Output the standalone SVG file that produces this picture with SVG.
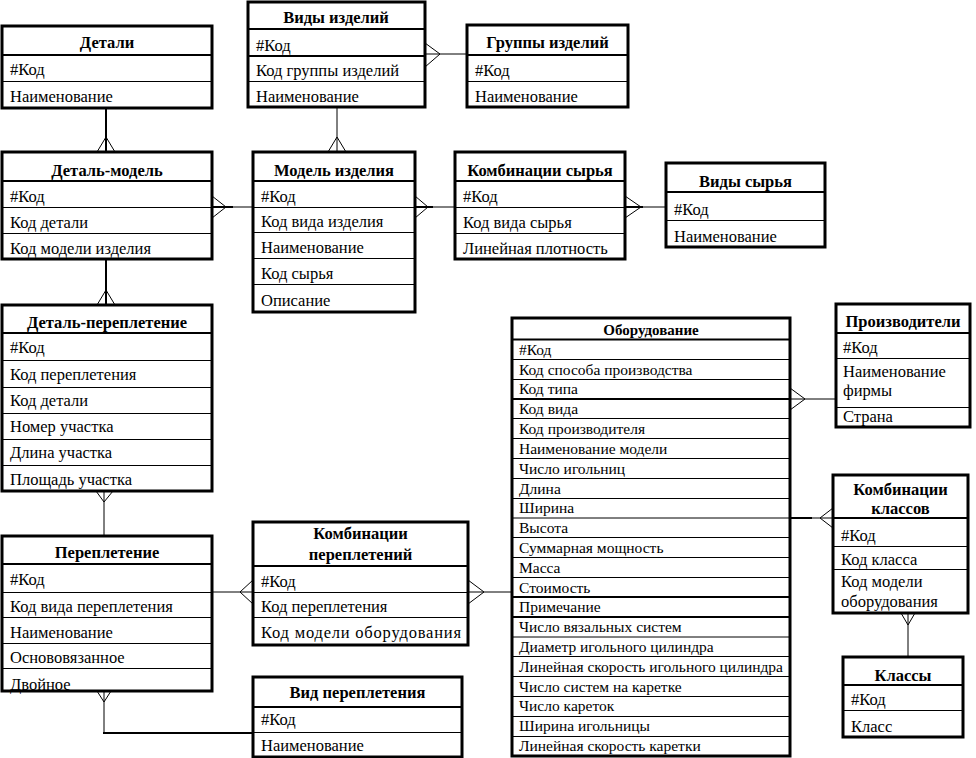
<svg xmlns="http://www.w3.org/2000/svg" width="976" height="758" viewBox="0 0 976 758">
<style>
.bg{fill:#fff;stroke:none}
.ol{fill:none;stroke:#000;stroke-width:3}
.hd{stroke:#000;stroke-width:2}
.rw{stroke:#000;stroke-width:1}
.t{font-family:"Liberation Serif","Times New Roman",serif;font-size:16.5px;fill:#000}
.s{font-family:"Liberation Serif","Times New Roman",serif;font-size:15.5px;fill:#000}
.h{font-family:"Liberation Serif","Times New Roman",serif;font-size:16.5px;font-weight:bold;fill:#000;text-anchor:middle}
.hs{font-family:"Liberation Serif","Times New Roman",serif;font-size:15px;font-weight:bold;fill:#000;text-anchor:middle}
.c{fill:none;stroke:#000;stroke-width:1}
.c2{fill:none;stroke:#000;stroke-width:2}
</style>
<rect width="976" height="758" fill="#fff"/>

<g id="connectors">
  <line class="c2" x1="106" y1="108" x2="106" y2="152"/>
  <polyline class="c" points="97,152 106,137 115,152"/>
  <line class="c" x1="337" y1="107" x2="337" y2="152"/>
  <polyline class="c" points="328,152 337,137 346,152"/>
  <line class="c" x1="425" y1="54" x2="467" y2="54"/>
  <polyline class="c" points="425,43 440,54 425,67"/>
  <line class="c" x1="212" y1="207" x2="253" y2="207"/>
  <line class="c2" x1="212" y1="207" x2="233" y2="207"/>
  <polyline class="c" points="212,196 226,207 212,218"/>
  <line class="c" x1="415" y1="207" x2="455" y2="207"/>
  <line class="c2" x1="415" y1="207" x2="433" y2="207"/>
  <polyline class="c" points="415,196 428,207 415,218"/>
  <line class="c" x1="625" y1="207" x2="666" y2="207"/>
  <line class="c2" x1="625" y1="207" x2="643" y2="207"/>
  <polyline class="c" points="625,196 641,207 625,218"/>
  <line class="c2" x1="106" y1="259" x2="106" y2="305"/>
  <polyline class="c" points="97,305 106,290 115,305"/>
  <line class="c" x1="104" y1="491" x2="104" y2="536"/>
  <polyline class="c" points="96,491 104,502 113,491"/>
  <line class="c" x1="212" y1="592" x2="253" y2="592"/>
  <polyline class="c" points="253,580 240,592 253,604"/>
  <line class="c" x1="468" y1="592" x2="512" y2="592"/>
  <polyline class="c" points="468,580 484,592 468,604"/>
  <polyline class="c" points="104,691 104,733"/>
  <line class="c2" x1="103" y1="733" x2="253" y2="733"/>
  <polyline class="c" points="97,691 104,702 111,691"/>
  <line class="c" x1="790" y1="399" x2="836" y2="399"/>
  <polyline class="c" points="790,388 805,399 790,410"/>
  <line class="c" x1="790" y1="518" x2="833" y2="518"/>
  <line class="c2" x1="790" y1="518" x2="812" y2="518"/>
  <polyline class="c" points="833,508 820,518 833,528"/>
  <line class="c" x1="908" y1="613" x2="908" y2="657"/>
  <polyline class="c" points="901,613 908,625 915,613"/>
</g>

<g id="detali">
  <rect class="bg" x="2" y="26" width="210" height="82"/>
  <line class="hd" x1="2" y1="55" x2="212" y2="55"/>
  <line class="rw" x1="2" y1="81.5" x2="212" y2="81.5"/>
  <text class="h" x="107" y="48">Детали</text>
  <text class="t" x="10" y="75">#Код</text>
  <text class="t" x="10" y="102">Наименование</text>
  <rect class="ol" x="2" y="26" width="210" height="82"/>
</g>

<g id="vidy-izdeliy">
  <rect class="bg" x="248" y="2" width="177" height="105"/>
  <line class="hd" x1="248" y1="29" x2="425" y2="29"/>
  <line class="hd" x1="248" y1="56" x2="425" y2="56"/>
  <line class="rw" x1="248" y1="81.5" x2="425" y2="81.5"/>
  <text class="h" x="336" y="23">Виды изделий</text>
  <text class="t" x="256" y="51">#Код</text>
  <text class="t" x="256" y="76">Код группы изделий</text>
  <text class="t" x="256" y="102">Наименование</text>
  <rect class="ol" x="248" y="2" width="177" height="105"/>
</g>

<g id="gruppy-izdeliy">
  <rect class="bg" x="467" y="25" width="161" height="82"/>
  <line class="hd" x1="467" y1="55" x2="628" y2="55"/>
  <line class="rw" x1="467" y1="81.5" x2="628" y2="81.5"/>
  <text class="h" x="547.5" y="48">Группы изделий</text>
  <text class="t" x="475" y="76">#Код</text>
  <text class="t" x="475" y="102">Наименование</text>
  <rect class="ol" x="467" y="25" width="161" height="82"/>
</g>

<g id="detal-model">
  <rect class="bg" x="2" y="152" width="210" height="107"/>
  <line class="hd" x1="2" y1="181" x2="212" y2="181"/>
  <line class="rw" x1="2" y1="207.5" x2="212" y2="207.5"/>
  <line class="rw" x1="2" y1="233.5" x2="212" y2="233.5"/>
  <text class="h" x="107" y="176">Деталь-модель</text>
  <text class="t" x="10" y="202">#Код</text>
  <text class="t" x="10" y="228">Код детали</text>
  <text class="t" x="10" y="254">Код модели изделия</text>
  <rect class="ol" x="2" y="152" width="210" height="107"/>
</g>

<g id="model-izdeliya">
  <rect class="bg" x="253" y="152" width="162" height="160"/>
  <line class="hd" x1="253" y1="181" x2="415" y2="181"/>
  <line class="rw" x1="253" y1="207.5" x2="415" y2="207.5"/>
  <line class="rw" x1="253" y1="232.5" x2="415" y2="232.5"/>
  <line class="rw" x1="253" y1="258.5" x2="415" y2="258.5"/>
  <line class="rw" x1="253" y1="284.5" x2="415" y2="284.5"/>
  <text class="h" x="334" y="176">Модель изделия</text>
  <text class="t" x="261" y="202">#Код</text>
  <text class="t" x="261" y="227">Код вида изделия</text>
  <text class="t" x="261" y="253">Наименование</text>
  <text class="t" x="261" y="279">Код сырья</text>
  <text class="t" x="261" y="306">Описание</text>
  <rect class="ol" x="253" y="152" width="162" height="160"/>
</g>

<g id="kombinacii-syrya">
  <rect class="bg" x="455" y="152" width="170" height="107"/>
  <line class="hd" x1="455" y1="181" x2="625" y2="181"/>
  <line class="rw" x1="455" y1="207.5" x2="625" y2="207.5"/>
  <line class="rw" x1="455" y1="233.5" x2="625" y2="233.5"/>
  <text class="h" x="540" y="176">Комбинации сырья</text>
  <text class="t" x="463" y="202">#Код</text>
  <text class="t" x="463" y="228">Код вида сырья</text>
  <text class="t" x="463" y="254">Линейная плотность</text>
  <rect class="ol" x="455" y="152" width="170" height="107"/>
</g>

<g id="vidy-syrya">
  <rect class="bg" x="666" y="163" width="159" height="84"/>
  <line class="hd" x1="666" y1="192" x2="825" y2="192"/>
  <line class="rw" x1="666" y1="220.5" x2="825" y2="220.5"/>
  <text class="h" x="745.5" y="187">Виды сырья</text>
  <text class="t" x="674" y="215">#Код</text>
  <text class="t" x="674" y="242">Наименование</text>
  <rect class="ol" x="666" y="163" width="159" height="84"/>
</g>

<g id="detal-perepletenie">
  <rect class="bg" x="2" y="305" width="210" height="186"/>
  <line class="hd" x1="2" y1="333" x2="212" y2="333"/>
  <line class="rw" x1="2" y1="360.5" x2="212" y2="360.5"/>
  <line class="rw" x1="2" y1="387.5" x2="212" y2="387.5"/>
  <line class="rw" x1="2" y1="413.5" x2="212" y2="413.5"/>
  <line class="rw" x1="2" y1="439.5" x2="212" y2="439.5"/>
  <line class="rw" x1="2" y1="465.5" x2="212" y2="465.5"/>
  <text class="h" x="107" y="328">Деталь-переплетение</text>
  <text class="t" x="10" y="353">#Код</text>
  <text class="t" x="10" y="380">Код переплетения</text>
  <text class="t" x="10" y="406">Код детали</text>
  <text class="t" x="10" y="432">Номер участка</text>
  <text class="t" x="10" y="458">Длина участка</text>
  <text class="t" x="10" y="485">Площадь участка</text>
  <rect class="ol" x="2" y="305" width="210" height="186"/>
</g>

<g id="perepletenie">
  <rect class="bg" x="2" y="536" width="210" height="155"/>
  <line class="hd" x1="2" y1="564" x2="212" y2="564"/>
  <line class="rw" x1="2" y1="592.5" x2="212" y2="592.5"/>
  <line class="rw" x1="2" y1="617.5" x2="212" y2="617.5"/>
  <line class="rw" x1="2" y1="643.5" x2="212" y2="643.5"/>
  <line class="rw" x1="2" y1="668.5" x2="212" y2="668.5"/>
  <text class="h" x="107" y="558">Переплетение</text>
  <text class="t" x="10" y="585">#Код</text>
  <text class="t" x="10" y="612">Код вида переплетения</text>
  <text class="t" x="10" y="638">Наименование</text>
  <text class="t" x="10" y="663">Основовязанное</text>
  <text class="t" x="10" y="690">Двойное</text>
  <rect class="ol" x="2" y="536" width="210" height="155"/>
</g>

<g id="kombinacii-perepleteniy">
  <rect class="bg" x="253" y="522" width="215" height="123"/>
  <line class="hd" x1="253" y1="566" x2="468" y2="566"/>
  <line class="rw" x1="253" y1="592.5" x2="468" y2="592.5"/>
  <line class="rw" x1="253" y1="617.5" x2="468" y2="617.5"/>
  <text class="h" x="360.5" y="539">Комбинации</text>
  <text class="h" x="360.5" y="560">переплетений</text>
  <text class="t" x="261" y="587">#Код</text>
  <text class="t" x="261" y="612">Код переплетения</text>
  <text class="t" x="261" y="638" textLength="200" lengthAdjust="spacing">Код модели оборудования</text>
  <rect class="ol" x="253" y="522" width="215" height="123"/>
</g>

<g id="vid-perepleteniya">
  <rect class="bg" x="253" y="677" width="209" height="80"/>
  <line class="hd" x1="253" y1="707" x2="462" y2="707"/>
  <line class="rw" x1="253" y1="732.5" x2="462" y2="732.5"/>
  <text class="h" x="357.5" y="698">Вид переплетения</text>
  <text class="t" x="261" y="725">#Код</text>
  <text class="t" x="261" y="751">Наименование</text>
  <rect class="ol" x="253" y="677" width="209" height="80"/>
</g>

<g id="oborudovanie">
  <rect class="bg" x="512" y="318" width="278" height="438"/>
  <line class="hd" x1="512" y1="339.5" x2="790" y2="339.5"/>
  <g class="rw">
    <line x1="512" y1="359.5" x2="790" y2="359.5"/>
    <line x1="512" y1="379.5" x2="790" y2="379.5"/>
    <line x1="512" y1="399" x2="790" y2="399" stroke-width="2"/>
    <line x1="512" y1="418.5" x2="790" y2="418.5"/>
    <line x1="512" y1="438.5" x2="790" y2="438.5"/>
    <line x1="512" y1="458.5" x2="790" y2="458.5"/>
    <line x1="512" y1="478.5" x2="790" y2="478.5"/>
    <line x1="512" y1="498.5" x2="790" y2="498.5"/>
    <line x1="512" y1="518" x2="790" y2="518"/>
    <line x1="512" y1="537.5" x2="790" y2="537.5"/>
    <line x1="512" y1="557.5" x2="790" y2="557.5"/>
    <line x1="512" y1="577.5" x2="790" y2="577.5"/>
    <line x1="512" y1="597" x2="790" y2="597" stroke-width="2"/>
    <line x1="512" y1="617" x2="790" y2="617" stroke-width="2"/>
    <line x1="512" y1="637" x2="790" y2="637"/>
    <line x1="512" y1="656.5" x2="790" y2="656.5"/>
    <line x1="512" y1="676.5" x2="790" y2="676.5"/>
    <line x1="512" y1="696.5" x2="790" y2="696.5"/>
    <line x1="512" y1="716.5" x2="790" y2="716.5"/>
    <line x1="512" y1="736.5" x2="790" y2="736.5"/>
  </g>
  <text class="hs" x="651" y="335">Оборудование</text>
  <text class="s" x="519" y="355">#Код</text>
  <text class="s" x="519" y="375">Код способа производства</text>
  <text class="s" x="519" y="394">Код типа</text>
  <text class="s" x="519" y="414">Код вида</text>
  <text class="s" x="519" y="434">Код производителя</text>
  <text class="s" x="519" y="454">Наименование модели</text>
  <text class="s" x="519" y="474">Число игольниц</text>
  <text class="s" x="519" y="494">Длина</text>
  <text class="s" x="519" y="513">Ширина</text>
  <text class="s" x="519" y="533">Высота</text>
  <text class="s" x="519" y="553">Суммарная мощность</text>
  <text class="s" x="519" y="573">Масса</text>
  <text class="s" x="519" y="593">Стоимость</text>
  <text class="s" x="519" y="612">Примечание</text>
  <text class="s" x="519" y="632">Число вязальных систем</text>
  <text class="s" x="519" y="652">Диаметр игольного цилиндра</text>
  <text class="s" x="519" y="672">Линейная скорость игольного цилиндра</text>
  <text class="s" x="519" y="692">Число систем на каретке</text>
  <text class="s" x="519" y="711">Число кареток</text>
  <text class="s" x="519" y="731">Ширина игольницы</text>
  <text class="s" x="519" y="751">Линейная скорость каретки</text>
  <rect class="ol" x="512" y="318" width="278" height="438"/>
</g>

<g id="proizvoditeli">
  <rect class="bg" x="836" y="304" width="134" height="123"/>
  <line class="hd" x1="836" y1="333" x2="970" y2="333"/>
  <line class="rw" x1="836" y1="358.5" x2="970" y2="358.5"/>
  <line class="rw" x1="836" y1="407.5" x2="970" y2="407.5"/>
  <text class="h" x="903" y="327">Производители</text>
  <text class="t" x="843" y="353">#Код</text>
  <text class="t" x="843" y="377">Наименование</text>
  <text class="t" x="843" y="396">фирмы</text>
  <text class="t" x="843" y="422">Страна</text>
  <rect class="ol" x="836" y="304" width="134" height="123"/>
</g>

<g id="kombinacii-klassov">
  <rect class="bg" x="833" y="475" width="135" height="138"/>
  <line class="hd" x1="833" y1="518" x2="968" y2="518"/>
  <line class="rw" x1="833" y1="546.5" x2="968" y2="546.5"/>
  <line class="rw" x1="833" y1="569.5" x2="968" y2="569.5"/>
  <text class="h" x="900.5" y="495">Комбинации</text>
  <text class="h" x="900.5" y="514">классов</text>
  <text class="t" x="841" y="541">#Код</text>
  <text class="t" x="841" y="565">Код класса</text>
  <text class="t" x="841" y="587">Код модели</text>
  <text class="t" x="841" y="607">оборудования</text>
  <rect class="ol" x="833" y="475" width="135" height="138"/>
</g>

<g id="klassy">
  <rect class="bg" x="843" y="657" width="120" height="80"/>
  <line class="hd" x1="843" y1="685" x2="963" y2="685"/>
  <line class="rw" x1="843" y1="710.5" x2="963" y2="710.5"/>
  <text class="h" x="903" y="681">Классы</text>
  <text class="t" x="851" y="705">#Код</text>
  <text class="t" x="851" y="732">Класс</text>
  <rect class="ol" x="843" y="657" width="120" height="80"/>
</g>
</svg>
